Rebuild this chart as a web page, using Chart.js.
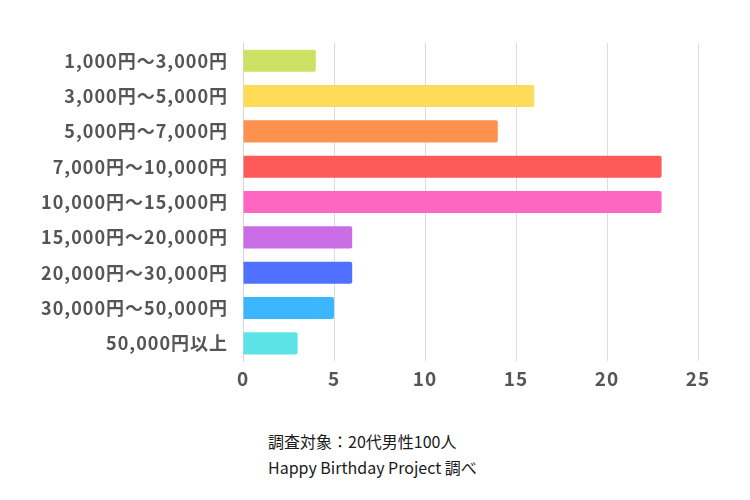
<!DOCTYPE html>
<html>
<head>
<meta charset="utf-8">
<script src="https://cdn.jsdelivr.net/npm/chart.js@4/dist/chart.umd.min.js"></script>
<style>
  html, body { margin: 0; padding: 0; background: #fff; }
  #wrap { position: relative; width: 750px; height: 400px; }
  #note {
    position: absolute; left: 268px; top: 428px;
    font-family: "Noto Sans CJK JP", "Noto Sans", sans-serif;
    font-size: 16px; line-height: 26px; color: #1a1a1a;
  }
</style>
</head>
<body>
<div id="wrap"><canvas id="myChart" width="750" height="400"></canvas></div>
<div id="note">調査対象：20代男性100人<br>Happy Birthday Project 調べ</div>
<script>
// price ranges (people out of 100)
const categories = [
  '1,000円〜3,000円', '3,000円〜5,000円', '5,000円〜7,000円',
  '7,000円〜10,000円', '10,000円〜15,000円', '15,000円〜20,000円',
  '20,000円〜30,000円', '30,000円〜50,000円', '50,000円以上'
];
const counts = [4, 16, 14, 23, 23, 6, 6, 5, 3];
const xTicks = [0, 5, 10, 15, 20, 25];

const barColors = ['#cde264', '#ffdb5a', '#ff914f', '#ff5a5a', '#ff66c2',
  '#c96ce6', '#5070ff', '#3cb7ff', '#5ce3e6'];

const labelFont = '"Noto Sans CJK JP", "Noto Sans", sans-serif';

// the labels in the picture are spaced out a little
const spacing = {
  id: 'spacing',
  beforeDraw: (chart) => { chart.ctx.letterSpacing = '1px'; },
};

const ctx = document.getElementById('myChart').getContext('2d');
new Chart(ctx, {
  type: 'bar',
  data: {
    labels: categories,
    datasets: [{
      data: counts,
      backgroundColor: barColors,
      borderWidth: 0,
      borderRadius: 2,
      borderSkipped: 'start',
      barPercentage: 0.625,
      categoryPercentage: 1,
    }],
  },
  options: {
    indexAxis: 'y',
    responsive: false,
    animation: false,
    layout: { padding: { top: 43, right: 52, bottom: 9, left: 0 } },
    plugins: { legend: { display: false }, tooltip: { enabled: false } },
    scales: {
      x: {
        min: 0,
        max: 25,
        afterBuildTicks: (scale) => { scale.ticks = xTicks.map((v) => ({ value: v })); },
        afterFit: (scale) => { scale.height = 30; },
        grid: { color: '#dcdcdc', drawTicks: false },
        border: { display: false },
        ticks: {
          padding: 6,
          color: '#555',
          font: { family: labelFont, size: 19, weight: 'bold' },
        },
      },
      y: {
        afterFit: (scale) => { scale.width = 243; },
        grid: { display: false, drawTicks: false },
        border: { display: true, color: '#d6d6d6' },
        ticks: {
          padding: 15,
          color: '#555',
          font: { family: labelFont, size: 18, weight: 'bold' },
        },
      },
    },
  },
  plugins: [spacing],
});
</script>
</body>
</html>
